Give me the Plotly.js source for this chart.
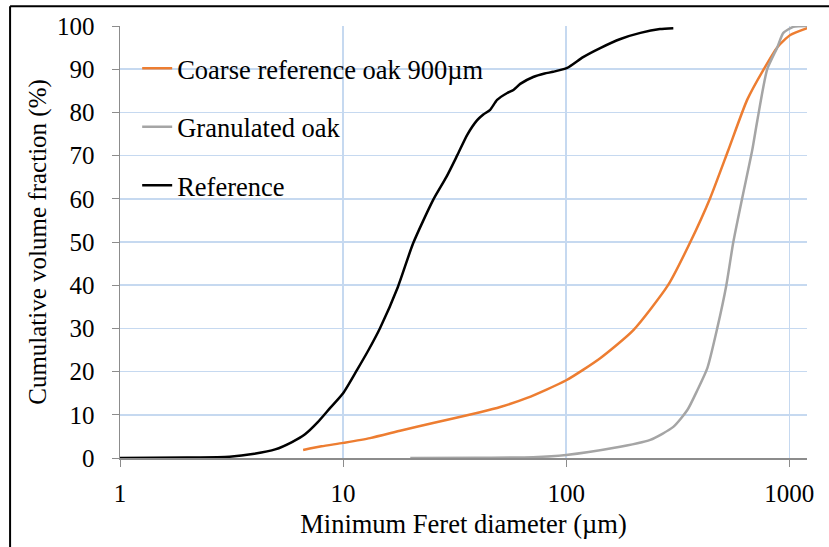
<!DOCTYPE html>
<html>
<head>
<meta charset="utf-8">
<script src="https://cdn.plot.ly/plotly-3.0.1.min.js"></script>
<style>html,body{margin:0;padding:0;background:#fff;}#chart{width:829px;height:547px;}</style>
</head>
<body>
<div id="chart"></div>
<script>
// Series names
const seriesNames = ["Coarse reference oak 900µm", "Granulated oak", "Reference"];

// Coarse reference oak 900µm
const coarseX = [6.62, 8, 10, 13.2, 18, 25.3, 41.1, 50.6, 66.8, 100, 142, 200, 286, 360, 442, 533, 647, 764, 884, 1010, 1203];
const coarseY = [1.85, 2.7, 3.5, 4.6, 6.3, 8.1, 10.6, 11.8, 13.9, 18, 23.1, 29.6, 40, 50, 60.2, 71.3, 82.9, 89.8, 95.1, 97.9, 99.5];

// Granulated oak
const granX = [20, 40, 71, 100, 162, 238, 302, 349, 387, 429, 475, 522, 561, 615, 682, 719, 796, 884, 940, 1042, 1203];
const granY = [0, 0.05, 0.2, 0.7, 2.3, 4.2, 7.2, 11.1, 15.7, 20.8, 30, 40, 50, 60.2, 71.3, 78.2, 90, 95.1, 98.4, 99.8, 100];

// Reference
const refX = [1, 2, 3.1, 4.0, 4.96, 5.9, 6.75, 7.7, 8.75, 10, 11.55, 13, 14.65, 17.6, 20.6, 25.3, 29, 32.5, 36, 39.9, 42.5, 45.6, 49, 54.4, 58, 62.2, 71.1, 80, 87.5, 101, 119, 142, 175, 215, 263, 302];
const refY = [0, 0.1, 0.3, 1.0, 2.0, 3.7, 5.5, 8.3, 11.6, 15, 20.4, 25, 30.1, 39.6, 49.7, 59.7, 65, 70.1, 74.8, 78.2, 79.5, 80.6, 82.9, 84.5, 85.2, 86.6, 88.2, 89, 89.4, 90.3, 92.8, 94.9, 97, 98.4, 99.3, 99.5];

// Axis ticks
const xTickVals = [1, 10, 100, 1000];
const xTickText = ["1", "10", "100", "1000"];
const yTickVals = [0, 10, 20, 30, 40, 50, 60, 70, 80, 90, 100];

const FONT = '"Liberation Serif", "Times New Roman", Times, serif';

const traces = [
  {x: coarseX, y: coarseY, name: seriesNames[0], legendgroup: "a", mode: "lines",
   line: {color: "#ED7D31", width: 2.5, shape: "spline", smoothing: 0.6}},
  {x: granX, y: granY, name: seriesNames[1], legendgroup: "b", mode: "lines",
   line: {color: "#A5A5A5", width: 2.5, shape: "spline", smoothing: 0.6}},
  {x: refX, y: refY, name: seriesNames[2], legendgroup: "c", mode: "lines",
   line: {color: "#000000", width: 2.5, shape: "spline", smoothing: 0.6}}
];

const layout = {
  width: 829, height: 547,
  margin: {l: 120, r: 22, t: 26, b: 89},
  paper_bgcolor: "#ffffff", plot_bgcolor: "#ffffff",
  font: {family: FONT, size: 25, color: "#000"},
  showlegend: true,
  legend: {x: 0.025, y: 0.957, xanchor: "left", yanchor: "top",
    bgcolor: "rgba(0,0,0,0)", font: {family: FONT, size: 26.5, color: "#000"},
    tracegroupgap: 21, traceorder: "grouped", itemwidth: 30},
  xaxis: {type: "log", range: [0, Math.log10(1200)],
    tickvals: xTickVals, ticktext: xTickText,
    showgrid: true, gridcolor: "#C6D9F0", gridwidth: 1.5,
    showline: true, linecolor: "#8C8C8C", linewidth: 1.5,
    ticks: "outside", ticklen: 7, tickcolor: "#8C8C8C",
    tickfont: {family: FONT, size: 25}, ticklabelstandoff: 5,
    zeroline: false, automargin: false,
    title: {text: "Minimum Feret diameter (µm)", font: {family: FONT, size: 26.5}, standoff: 9}},
  yaxis: {range: [0, 100], tickvals: yTickVals,
    showgrid: true, gridcolor: "#C6D9F0", gridwidth: 1.5,
    showline: true, linecolor: "#8C8C8C", linewidth: 1.5,
    ticks: "outside", ticklen: 7, tickcolor: "#8C8C8C",
    tickfont: {family: FONT, size: 25}, ticklabelstandoff: 12,
    zeroline: false, automargin: false,
    title: {text: "Cumulative volume fraction (%)", font: {family: FONT, size: 25}, standoff: 3}},
  shapes: [
    {type: "line", xref: "paper", yref: "paper", x0: -0.16, x1: 1.1, y0: 1.046, y1: 1.046,
     line: {color: "#000", width: 2}},
    {type: "line", xref: "paper", yref: "paper", x0: -0.16, x1: -0.16, y0: 1.046, y1: -0.25,
     line: {color: "#000", width: 2}}
  ]
};

Plotly.newPlot("chart", traces, layout, {displayModeBar: false, staticPlot: true});
</script>
</body>
</html>
